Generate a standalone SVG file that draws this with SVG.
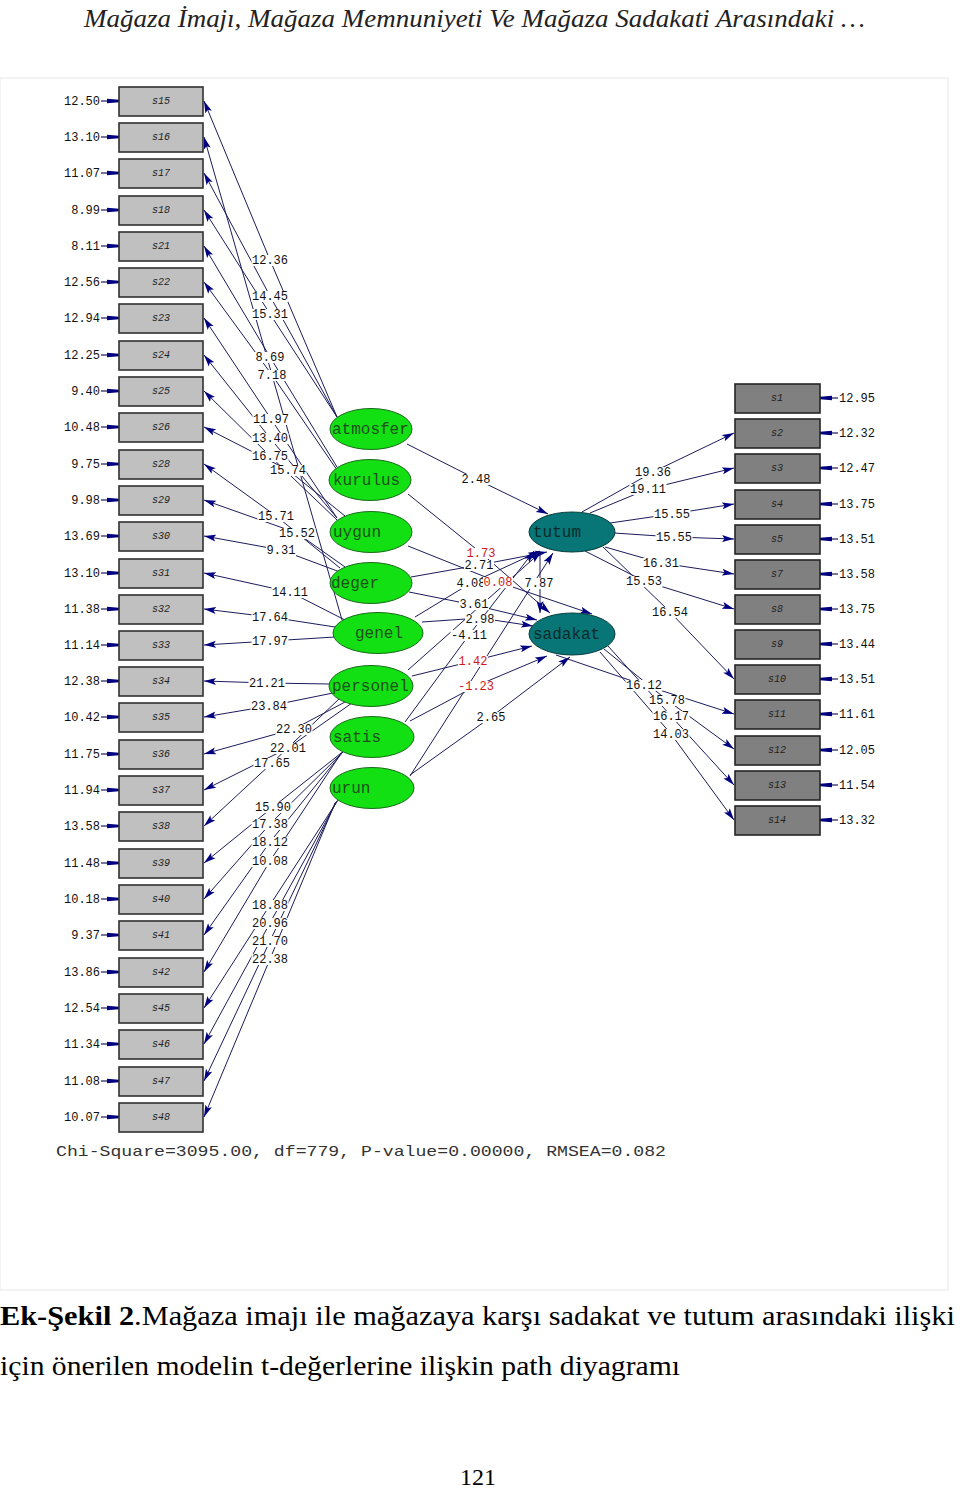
<svg xmlns="http://www.w3.org/2000/svg" width="960" height="1489" viewBox="0 0 960 1489">
<style>
.bg{fill:#fff}
.frame{fill:none;stroke:#efefef;stroke-width:1.5}
.c{fill:none;stroke:#1c1c5c;stroke-width:1}
.e{fill:none;stroke:#1c1c5c;stroke-width:1.2}
.bl{fill:#c0c0c0;stroke:#303030;stroke-width:1.6}
.br{fill:#808080;stroke:#252525;stroke-width:1.6}
.bt{font-family:"Liberation Mono","DejaVu Sans Mono",monospace;font-size:10px;fill:#222;text-anchor:middle;font-style:italic}
.lat{fill:#12e012;stroke:#1a6a1a;stroke-width:1}
.lat2{fill:#087676;stroke:#063c3c;stroke-width:1}
.lt{font-family:"Liberation Mono","DejaVu Sans Mono",monospace;font-size:16px;fill:#1d4f1d}
.lt2{font-family:"Liberation Mono","DejaVu Sans Mono",monospace;font-size:16px;fill:#0d2a2a}
.w{fill:#fff}
.t{font-family:"Liberation Mono","DejaVu Sans Mono",monospace;font-size:12px;fill:#111;text-anchor:middle}
.r{fill:#d01818}
.el{font-family:"Liberation Mono","DejaVu Sans Mono",monospace;font-size:12px;fill:#111;text-anchor:end}
.er{font-family:"Liberation Mono","DejaVu Sans Mono",monospace;font-size:12px;fill:#111;text-anchor:start}
.chi{font-family:"Liberation Mono","DejaVu Sans Mono",monospace;font-size:15px;fill:#333}
.ttl{font-family:"Liberation Serif","Times New Roman",serif;font-style:italic;font-size:26px;fill:#222}
.cap{font-family:"Liberation Serif","Times New Roman",serif;font-size:28px;fill:#000}
.pg{font-family:"Liberation Serif","Times New Roman",serif;font-size:24px;fill:#000}
</style>
<defs>
<marker id="ah" viewBox="0 0 12 8" refX="12" refY="4" markerWidth="12" markerHeight="8" markerUnits="userSpaceOnUse" orient="auto">
<path d="M0,0.5 L12,4 L0,7.5 L2.5,4 z" fill="#000080"/>
</marker>
<marker id="ae" viewBox="0 0 12 6" refX="12" refY="3" markerWidth="12" markerHeight="6" markerUnits="userSpaceOnUse" orient="auto">
<path d="M0,0.8 L12,1.8 L12,4.2 L0,5.2 z" fill="#000080"/>
</marker>
</defs>
<rect class="bg" x="0" y="0" width="960" height="1489"/>
<rect class="frame" x="0" y="78" width="948" height="1212"/>

<text class="ttl" x="84" y="27" textLength="781" lengthAdjust="spacingAndGlyphs">Mağaza İmajı, Mağaza Memnuniyeti Ve Mağaza Sadakati Arasındaki …</text>

<g id="connectors">
<!-- measurement paths, left -->
<path class="c" marker-end="url(#ah)" d="M337,417 L270,260 L204,101"/>
<path class="c" marker-end="url(#ah)" d="M342,620 L204,137"/>
<path class="c" marker-end="url(#ah)" d="M337,417 L270,296 L204,173"/>
<path class="c" marker-end="url(#ah)" d="M337,417 L270,314 L204,210"/>
<path class="c" marker-end="url(#ah)" d="M337,467 L270,357 L204,246"/>
<path class="c" marker-end="url(#ah)" d="M337,470 L272,375 L204,282"/>
<path class="c" marker-end="url(#ah)" d="M337,518 L271,419 L204,318"/>
<path class="c" marker-end="url(#ah)" d="M337,518 L270,438 L204,355"/>
<path class="c" marker-end="url(#ah)" d="M337,520 L270,456 L204,391"/>
<path class="c" marker-end="url(#ah)" d="M345,516 L288,470 L204,427"/>
<path class="c" marker-end="url(#ah)" d="M340,568 L276,516 L204,464"/>
<path class="c" marker-end="url(#ah)" d="M345,567 L297,533 L204,500"/>
<path class="c" marker-end="url(#ah)" d="M340,572 L281,550 L204,536"/>
<path class="c" marker-end="url(#ah)" d="M345,620 L290,592 L204,573"/>
<path class="c" marker-end="url(#ah)" d="M335,627 L270,617 L204,609"/>
<path class="c" marker-end="url(#ah)" d="M335,637 L270,641 L204,645"/>
<path class="c" marker-end="url(#ah)" d="M330,684 L267,683 L204,681"/>
<path class="c" marker-end="url(#ah)" d="M333,693 L269,706 L204,717"/>
<path class="c" marker-end="url(#ah)" d="M345,702 L294,729 L204,754"/>
<path class="c" marker-end="url(#ah)" d="M352,703 L288,748 L204,790"/>
<path class="c" marker-end="url(#ah)" d="M340,698 L272,763 L204,826"/>
<path class="c" marker-end="url(#ah)" d="M345,750 L273,807 L204,863"/>
<path class="c" marker-end="url(#ah)" d="M343,752 L270,824 L204,899"/>
<path class="c" marker-end="url(#ah)" d="M342,753 L270,842 L204,935"/>
<path class="c" marker-end="url(#ah)" d="M340,755 L270,861 L204,972"/>
<path class="c" marker-end="url(#ah)" d="M338,800 L270,905 L204,1008"/>
<path class="c" marker-end="url(#ah)" d="M337,801 L270,923 L204,1044"/>
<path class="c" marker-end="url(#ah)" d="M336,802 L270,941 L204,1081"/>
<path class="c" marker-end="url(#ah)" d="M335,803 L270,959 L204,1117"/>
<!-- structural paths -->
<path class="c" marker-end="url(#ah)" d="M407,444 L476,479 L548,514"/>
<path class="c" marker-end="url(#ah)" d="M408,494 L481,553 L550,613"/>
<path class="c" marker-end="url(#ah)" d="M408,546 L498,582 L592,614"/>
<path class="c" marker-end="url(#ah)" d="M411,577 L479,565 L547,552"/>
<path class="c" marker-end="url(#ah)" d="M415,617 L471,583 L540,551"/>
<path class="c" marker-end="url(#ah)" d="M409,592 L474,605 L537,620"/>
<path class="c" marker-end="url(#ah)" d="M422,622 L480,618 L533,626"/>
<path class="c" marker-end="url(#ah)" d="M405,722 L469,635 L534,551"/>
<path class="c" marker-end="url(#ah)" d="M412,676 L473,661 L532,646"/>
<path class="c" marker-end="url(#ah)" d="M410,721 L476,686 L547,656"/>
<path class="c" marker-end="url(#ah)" d="M410,775 L491,717 L570,657"/>
<path class="c" marker-end="url(#ah)" d="M408,670 L541,552"/>
<path class="c" marker-end="url(#ah)" d="M410,776 L553,553"/>
<path class="c" marker-end="url(#ah)" d="M540,552 L540,613"/>
<!-- measurement paths, right -->
<path class="c" marker-end="url(#ah)" d="M582,512 L653,472 L734,433"/>
<path class="c" marker-end="url(#ah)" d="M590,513 L648,489 L734,468"/>
<path class="c" marker-end="url(#ah)" d="M610,523 L672,514 L734,504"/>
<path class="c" marker-end="url(#ah)" d="M614,533 L674,537 L734,539"/>
<path class="c" marker-end="url(#ah)" d="M605,547 L661,563 L734,574"/>
<path class="c" marker-end="url(#ah)" d="M585,551 L644,581 L734,609"/>
<path class="c" marker-end="url(#ah)" d="M603,547 L670,612 L734,679"/>
<path class="c" marker-end="url(#ah)" d="M556,655 L644,685 L734,714"/>
<path class="c" marker-end="url(#ah)" d="M604,649 L667,700 L734,749"/>
<path class="c" marker-end="url(#ah)" d="M608,646 L671,716 L734,785"/>
<path class="c" marker-end="url(#ah)" d="M600,652 L671,734 L734,820"/>
<!-- error arrows, left -->
<path class="e" marker-end="url(#ae)" d="M101,101 H119"/>
<path class="e" marker-end="url(#ae)" d="M101,137 H119"/>
<path class="e" marker-end="url(#ae)" d="M101,173 H119"/>
<path class="e" marker-end="url(#ae)" d="M101,210 H119"/>
<path class="e" marker-end="url(#ae)" d="M101,246 H119"/>
<path class="e" marker-end="url(#ae)" d="M101,282 H119"/>
<path class="e" marker-end="url(#ae)" d="M101,318 H119"/>
<path class="e" marker-end="url(#ae)" d="M101,355 H119"/>
<path class="e" marker-end="url(#ae)" d="M101,391 H119"/>
<path class="e" marker-end="url(#ae)" d="M101,427 H119"/>
<path class="e" marker-end="url(#ae)" d="M101,464 H119"/>
<path class="e" marker-end="url(#ae)" d="M101,500 H119"/>
<path class="e" marker-end="url(#ae)" d="M101,536 H119"/>
<path class="e" marker-end="url(#ae)" d="M101,573 H119"/>
<path class="e" marker-end="url(#ae)" d="M101,609 H119"/>
<path class="e" marker-end="url(#ae)" d="M101,645 H119"/>
<path class="e" marker-end="url(#ae)" d="M101,681 H119"/>
<path class="e" marker-end="url(#ae)" d="M101,717 H119"/>
<path class="e" marker-end="url(#ae)" d="M101,754 H119"/>
<path class="e" marker-end="url(#ae)" d="M101,790 H119"/>
<path class="e" marker-end="url(#ae)" d="M101,826 H119"/>
<path class="e" marker-end="url(#ae)" d="M101,863 H119"/>
<path class="e" marker-end="url(#ae)" d="M101,899 H119"/>
<path class="e" marker-end="url(#ae)" d="M101,935 H119"/>
<path class="e" marker-end="url(#ae)" d="M101,972 H119"/>
<path class="e" marker-end="url(#ae)" d="M101,1008 H119"/>
<path class="e" marker-end="url(#ae)" d="M101,1044 H119"/>
<path class="e" marker-end="url(#ae)" d="M101,1081 H119"/>
<path class="e" marker-end="url(#ae)" d="M101,1117 H119"/>
<!-- error arrows, right -->
<path class="e" marker-end="url(#ae)" d="M838,398 H820"/>
<path class="e" marker-end="url(#ae)" d="M838,433 H820"/>
<path class="e" marker-end="url(#ae)" d="M838,468 H820"/>
<path class="e" marker-end="url(#ae)" d="M838,504 H820"/>
<path class="e" marker-end="url(#ae)" d="M838,539 H820"/>
<path class="e" marker-end="url(#ae)" d="M838,574 H820"/>
<path class="e" marker-end="url(#ae)" d="M838,609 H820"/>
<path class="e" marker-end="url(#ae)" d="M838,644 H820"/>
<path class="e" marker-end="url(#ae)" d="M838,679 H820"/>
<path class="e" marker-end="url(#ae)" d="M838,714 H820"/>
<path class="e" marker-end="url(#ae)" d="M838,750 H820"/>
<path class="e" marker-end="url(#ae)" d="M838,785 H820"/>
<path class="e" marker-end="url(#ae)" d="M838,820 H820"/>
</g>

<!-- left indicator boxes -->
<g id="s15"><rect class="bl" x="119" y="87" width="84" height="29"/><text class="bt" x="161" y="104">s15</text><text class="el" x="100" y="105">12.50</text></g>
<g id="s16"><rect class="bl" x="119" y="123" width="84" height="29"/><text class="bt" x="161" y="140">s16</text><text class="el" x="100" y="141">13.10</text></g>
<g id="s17"><rect class="bl" x="119" y="159" width="84" height="29"/><text class="bt" x="161" y="176">s17</text><text class="el" x="100" y="177">11.07</text></g>
<g id="s18"><rect class="bl" x="119" y="196" width="84" height="29"/><text class="bt" x="161" y="213">s18</text><text class="el" x="100" y="214">8.99</text></g>
<g id="s21"><rect class="bl" x="119" y="232" width="84" height="29"/><text class="bt" x="161" y="249">s21</text><text class="el" x="100" y="250">8.11</text></g>
<g id="s22"><rect class="bl" x="119" y="268" width="84" height="29"/><text class="bt" x="161" y="285">s22</text><text class="el" x="100" y="286">12.56</text></g>
<g id="s23"><rect class="bl" x="119" y="304" width="84" height="29"/><text class="bt" x="161" y="321">s23</text><text class="el" x="100" y="322">12.94</text></g>
<g id="s24"><rect class="bl" x="119" y="341" width="84" height="29"/><text class="bt" x="161" y="358">s24</text><text class="el" x="100" y="359">12.25</text></g>
<g id="s25"><rect class="bl" x="119" y="377" width="84" height="29"/><text class="bt" x="161" y="394">s25</text><text class="el" x="100" y="395">9.40</text></g>
<g id="s26"><rect class="bl" x="119" y="413" width="84" height="29"/><text class="bt" x="161" y="430">s26</text><text class="el" x="100" y="431">10.48</text></g>
<g id="s28"><rect class="bl" x="119" y="450" width="84" height="29"/><text class="bt" x="161" y="467">s28</text><text class="el" x="100" y="468">9.75</text></g>
<g id="s29"><rect class="bl" x="119" y="486" width="84" height="29"/><text class="bt" x="161" y="503">s29</text><text class="el" x="100" y="504">9.98</text></g>
<g id="s30"><rect class="bl" x="119" y="522" width="84" height="29"/><text class="bt" x="161" y="539">s30</text><text class="el" x="100" y="540">13.69</text></g>
<g id="s31"><rect class="bl" x="119" y="559" width="84" height="29"/><text class="bt" x="161" y="576">s31</text><text class="el" x="100" y="577">13.10</text></g>
<g id="s32"><rect class="bl" x="119" y="595" width="84" height="29"/><text class="bt" x="161" y="612">s32</text><text class="el" x="100" y="613">11.38</text></g>
<g id="s33"><rect class="bl" x="119" y="631" width="84" height="29"/><text class="bt" x="161" y="648">s33</text><text class="el" x="100" y="649">11.14</text></g>
<g id="s34"><rect class="bl" x="119" y="667" width="84" height="29"/><text class="bt" x="161" y="684">s34</text><text class="el" x="100" y="685">12.38</text></g>
<g id="s35"><rect class="bl" x="119" y="703" width="84" height="29"/><text class="bt" x="161" y="720">s35</text><text class="el" x="100" y="721">10.42</text></g>
<g id="s36"><rect class="bl" x="119" y="740" width="84" height="29"/><text class="bt" x="161" y="757">s36</text><text class="el" x="100" y="758">11.75</text></g>
<g id="s37"><rect class="bl" x="119" y="776" width="84" height="29"/><text class="bt" x="161" y="793">s37</text><text class="el" x="100" y="794">11.94</text></g>
<g id="s38"><rect class="bl" x="119" y="812" width="84" height="29"/><text class="bt" x="161" y="829">s38</text><text class="el" x="100" y="830">13.58</text></g>
<g id="s39"><rect class="bl" x="119" y="849" width="84" height="29"/><text class="bt" x="161" y="866">s39</text><text class="el" x="100" y="867">11.48</text></g>
<g id="s40"><rect class="bl" x="119" y="885" width="84" height="29"/><text class="bt" x="161" y="902">s40</text><text class="el" x="100" y="903">10.18</text></g>
<g id="s41"><rect class="bl" x="119" y="921" width="84" height="29"/><text class="bt" x="161" y="938">s41</text><text class="el" x="100" y="939">9.37</text></g>
<g id="s42"><rect class="bl" x="119" y="958" width="84" height="29"/><text class="bt" x="161" y="975">s42</text><text class="el" x="100" y="976">13.86</text></g>
<g id="s45"><rect class="bl" x="119" y="994" width="84" height="29"/><text class="bt" x="161" y="1011">s45</text><text class="el" x="100" y="1012">12.54</text></g>
<g id="s46"><rect class="bl" x="119" y="1030" width="84" height="29"/><text class="bt" x="161" y="1047">s46</text><text class="el" x="100" y="1048">11.34</text></g>
<g id="s47"><rect class="bl" x="119" y="1067" width="84" height="29"/><text class="bt" x="161" y="1084">s47</text><text class="el" x="100" y="1085">11.08</text></g>
<g id="s48"><rect class="bl" x="119" y="1103" width="84" height="29"/><text class="bt" x="161" y="1120">s48</text><text class="el" x="100" y="1121">10.07</text></g>

<!-- right indicator boxes -->
<g id="s1"><rect class="br" x="735" y="384" width="85" height="29"/><text class="bt" x="777" y="401">s1</text><text class="er" x="839" y="402">12.95</text></g>
<g id="s2"><rect class="br" x="735" y="419" width="85" height="29"/><text class="bt" x="777" y="436">s2</text><text class="er" x="839" y="437">12.32</text></g>
<g id="s3"><rect class="br" x="735" y="454" width="85" height="29"/><text class="bt" x="777" y="471">s3</text><text class="er" x="839" y="472">12.47</text></g>
<g id="s4"><rect class="br" x="735" y="490" width="85" height="29"/><text class="bt" x="777" y="507">s4</text><text class="er" x="839" y="508">13.75</text></g>
<g id="s5"><rect class="br" x="735" y="525" width="85" height="29"/><text class="bt" x="777" y="542">s5</text><text class="er" x="839" y="543">13.51</text></g>
<g id="s7"><rect class="br" x="735" y="560" width="85" height="29"/><text class="bt" x="777" y="577">s7</text><text class="er" x="839" y="578">13.58</text></g>
<g id="s8"><rect class="br" x="735" y="595" width="85" height="29"/><text class="bt" x="777" y="612">s8</text><text class="er" x="839" y="613">13.75</text></g>
<g id="s9"><rect class="br" x="735" y="630" width="85" height="29"/><text class="bt" x="777" y="647">s9</text><text class="er" x="839" y="648">13.44</text></g>
<g id="s10"><rect class="br" x="735" y="665" width="85" height="29"/><text class="bt" x="777" y="682">s10</text><text class="er" x="839" y="683">13.51</text></g>
<g id="s11"><rect class="br" x="735" y="700" width="85" height="29"/><text class="bt" x="777" y="717">s11</text><text class="er" x="839" y="718">11.61</text></g>
<g id="s12"><rect class="br" x="735" y="736" width="85" height="29"/><text class="bt" x="777" y="753">s12</text><text class="er" x="839" y="754">12.05</text></g>
<g id="s13"><rect class="br" x="735" y="771" width="85" height="29"/><text class="bt" x="777" y="788">s13</text><text class="er" x="839" y="789">11.54</text></g>
<g id="s14"><rect class="br" x="735" y="806" width="85" height="29"/><text class="bt" x="777" y="823">s14</text><text class="er" x="839" y="824">13.32</text></g>

<!-- latent variables -->
<g id="atmosfer"><ellipse class="lat" cx="371" cy="429" rx="41" ry="20.5"/><text class="lt" x="332" y="434">atmosfer</text></g>
<g id="kurulus"><ellipse class="lat" cx="370" cy="480" rx="41" ry="20.5"/><text class="lt" x="333" y="485">kurulus</text></g>
<g id="uygun"><ellipse class="lat" cx="371" cy="532" rx="41" ry="20.5"/><text class="lt" x="333" y="537">uygun</text></g>
<g id="deger"><ellipse class="lat" cx="371" cy="583" rx="41" ry="20.5"/><text class="lt" x="331" y="588">deger</text></g>
<g id="genel"><ellipse class="lat" cx="378" cy="633" rx="45" ry="20.5"/><text class="lt" x="355" y="638">genel</text></g>
<g id="personel"><ellipse class="lat" cx="371" cy="686" rx="42" ry="20.5"/><text class="lt" x="332" y="691">personel</text></g>
<g id="satis"><ellipse class="lat" cx="372" cy="737" rx="42" ry="20.5"/><text class="lt" x="333" y="742">satis</text></g>
<g id="urun"><ellipse class="lat" cx="372" cy="788" rx="42" ry="20.5"/><text class="lt" x="332" y="793">urun</text></g>
<g id="tutum"><ellipse class="lat2" cx="572" cy="532" rx="43" ry="20"/><text class="lt2" x="533" y="537">tutum</text></g>
<g id="sadakat"><ellipse class="lat2" cx="572" cy="634" rx="43" ry="21"/><text class="lt2" x="533" y="639">sadakat</text></g>

<g id="labels">
<rect class="w" x="251.5" y="255" width="37" height="11"/><text class="t" x="270" y="264">12.36</text>
<rect class="w" x="251.5" y="291" width="37" height="11"/><text class="t" x="270" y="300">14.45</text>
<rect class="w" x="251.5" y="309" width="37" height="11"/><text class="t" x="270" y="318">15.31</text>
<rect class="w" x="255" y="352" width="30" height="11"/><text class="t" x="270" y="361">8.69</text>
<rect class="w" x="257" y="370" width="30" height="11"/><text class="t" x="272" y="379">7.18</text>
<rect class="w" x="252.5" y="414" width="37" height="11"/><text class="t" x="271" y="423">11.97</text>
<rect class="w" x="251.5" y="433" width="37" height="11"/><text class="t" x="270" y="442">13.40</text>
<rect class="w" x="251.5" y="451" width="37" height="11"/><text class="t" x="270" y="460">16.75</text>
<rect class="w" x="269.5" y="465" width="37" height="11"/><text class="t" x="288" y="474">15.74</text>
<rect class="w" x="257.5" y="511" width="37" height="11"/><text class="t" x="276" y="520">15.71</text>
<rect class="w" x="278.5" y="528" width="37" height="11"/><text class="t" x="297" y="537">15.52</text>
<rect class="w" x="266" y="545" width="30" height="11"/><text class="t" x="281" y="554">9.31</text>
<rect class="w" x="271.5" y="587" width="37" height="11"/><text class="t" x="290" y="596">14.11</text>
<rect class="w" x="251.5" y="612" width="37" height="11"/><text class="t" x="270" y="621">17.64</text>
<rect class="w" x="251.5" y="636" width="37" height="11"/><text class="t" x="270" y="645">17.97</text>
<rect class="w" x="248.5" y="678" width="37" height="11"/><text class="t" x="267" y="687">21.21</text>
<rect class="w" x="250.5" y="701" width="37" height="11"/><text class="t" x="269" y="710">23.84</text>
<rect class="w" x="275.5" y="724" width="37" height="11"/><text class="t" x="294" y="733">22.30</text>
<rect class="w" x="269.5" y="743" width="37" height="11"/><text class="t" x="288" y="752">22.01</text>
<rect class="w" x="253.5" y="758" width="37" height="11"/><text class="t" x="272" y="767">17.65</text>
<rect class="w" x="254.5" y="802" width="37" height="11"/><text class="t" x="273" y="811">15.90</text>
<rect class="w" x="251.5" y="819" width="37" height="11"/><text class="t" x="270" y="828">17.38</text>
<rect class="w" x="251.5" y="837" width="37" height="11"/><text class="t" x="270" y="846">18.12</text>
<rect class="w" x="251.5" y="856" width="37" height="11"/><text class="t" x="270" y="865">10.08</text>
<rect class="w" x="251.5" y="900" width="37" height="11"/><text class="t" x="270" y="909">18.88</text>
<rect class="w" x="251.5" y="918" width="37" height="11"/><text class="t" x="270" y="927">20.96</text>
<rect class="w" x="251.5" y="936" width="37" height="11"/><text class="t" x="270" y="945">21.70</text>
<rect class="w" x="251.5" y="954" width="37" height="11"/><text class="t" x="270" y="963">22.38</text>

<rect class="w" x="461" y="474" width="30" height="11"/><text class="t" x="476" y="483">2.48</text>
<rect class="w" x="466" y="548" width="30" height="11"/><text class="t r" x="481" y="557">1.73</text>
<rect class="w" x="464" y="560" width="30" height="11"/><text class="t" x="479" y="569">2.71</text>
<rect class="w" x="456" y="578" width="30" height="11"/><text class="t" x="471" y="587">4.08</text>
<rect class="w" x="483" y="577" width="30" height="11"/><text class="t r" x="498" y="586">0.08</text>
<rect class="w" x="524" y="578" width="30" height="11"/><text class="t" x="539" y="587">7.87</text>
<rect class="w" x="465" y="614" width="30" height="11"/><text class="t" x="480" y="623">2.98</text>
<rect class="w" x="459" y="599" width="30" height="11"/><text class="t" x="474" y="608">3.61</text>
<rect class="w" x="450.5" y="630" width="37" height="11"/><text class="t" x="469" y="639">-4.11</text>
<rect class="w" x="458" y="656" width="30" height="11"/><text class="t r" x="473" y="665">1.42</text>
<rect class="w" x="457.5" y="681" width="37" height="11"/><text class="t r" x="476" y="690">-1.23</text>
<rect class="w" x="476" y="712" width="30" height="11"/><text class="t" x="491" y="721">2.65</text>

<rect class="w" x="634.5" y="467" width="37" height="11"/><text class="t" x="653" y="476">19.36</text>
<rect class="w" x="629.5" y="484" width="37" height="11"/><text class="t" x="648" y="493">19.11</text>
<rect class="w" x="653.5" y="509" width="37" height="11"/><text class="t" x="672" y="518">15.55</text>
<rect class="w" x="655.5" y="532" width="37" height="11"/><text class="t" x="674" y="541">15.55</text>
<rect class="w" x="642.5" y="558" width="37" height="11"/><text class="t" x="661" y="567">16.31</text>
<rect class="w" x="625.5" y="576" width="37" height="11"/><text class="t" x="644" y="585">15.53</text>
<rect class="w" x="651.5" y="607" width="37" height="11"/><text class="t" x="670" y="616">16.54</text>
<rect class="w" x="625.5" y="680" width="37" height="11"/><text class="t" x="644" y="689">16.12</text>
<rect class="w" x="648.5" y="695" width="37" height="11"/><text class="t" x="667" y="704">15.78</text>
<rect class="w" x="652.5" y="711" width="37" height="11"/><text class="t" x="671" y="720">16.17</text>
<rect class="w" x="652.5" y="729" width="37" height="11"/><text class="t" x="671" y="738">14.03</text>
</g>

<text class="chi" x="56" y="1156" textLength="610" lengthAdjust="spacingAndGlyphs">Chi-Square=3095.00, df=779, P-value=0.00000, RMSEA=0.082</text>

<text class="cap" x="0" y="1325" textLength="955" lengthAdjust="spacingAndGlyphs"><tspan font-weight="bold">Ek-Şekil 2</tspan>.Mağaza imajı ile mağazaya karşı sadakat ve tutum arasındaki ilişki</text>
<text class="cap" x="0" y="1375" textLength="680" lengthAdjust="spacingAndGlyphs">için önerilen modelin t-değerlerine ilişkin path diyagramı</text>
<text class="pg" x="478" y="1485" text-anchor="middle">121</text>
</svg>
